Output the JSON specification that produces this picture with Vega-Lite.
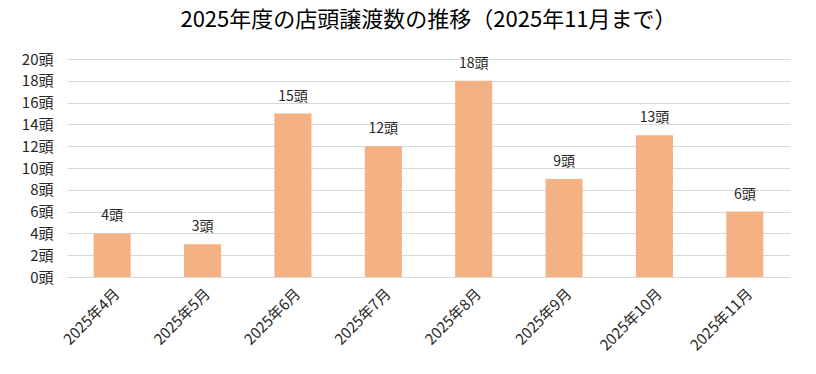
{
  "$schema": "https://vega.github.io/schema/vega-lite/v6.json",
  "width": 723,
  "height": 218,
  "autosize": {"type": "none"},
  "padding": {"left": 67, "top": 59, "right": 26, "bottom": 97},
  "background": "white",
  "config": {"view": {"stroke": null}, "font": "Noto Sans CJK JP"},
  "title": {
    "text": "2025年度の店頭譲渡数の推移（2025年11月まで）",
    "fontSize": 22,
    "fontWeight": "normal",
    "color": "#000000",
    "anchor": "middle",
    "offset": 20,
    "font": "Noto Sans CJK JP"
  },
  "data": {
    "values": [
      {"month": "2025年4月", "count": 4, "label": "4頭"},
      {"month": "2025年5月", "count": 3, "label": "3頭"},
      {"month": "2025年6月", "count": 15, "label": "15頭"},
      {"month": "2025年7月", "count": 12, "label": "12頭"},
      {"month": "2025年8月", "count": 18, "label": "18頭"},
      {"month": "2025年9月", "count": 9, "label": "9頭"},
      {"month": "2025年10月", "count": 13, "label": "13頭"},
      {"month": "2025年11月", "count": 6, "label": "6頭"}
    ]
  },
  "encoding": {
    "x": {
      "field": "month",
      "type": "nominal",
      "sort": null,
      "scale": {"paddingInner": 0.59, "paddingOuter": 0.295},
      "axis": {
        "title": null,
        "labelAngle": -45,
        "labelFontSize": 15,
        "labelColor": "#262626",
        "ticks": false,
        "domain": true,
        "domainColor": "#d9d9d9",
        "labelPadding": 9
      }
    },
    "y": {
      "field": "count",
      "type": "quantitative",
      "scale": {"domain": [0, 20]},
      "axis": {
        "title": null,
        "values": [0, 2, 4, 6, 8, 10, 12, 14, 16, 18, 20],
        "labelExpr": "datum.value + '頭'",
        "labelFontSize": 15,
        "labelColor": "#262626",
        "ticks": false,
        "domain": false,
        "gridColor": "#d9d9d9",
        "labelPadding": 14
      }
    }
  },
  "layer": [
    {"mark": {"type": "bar", "color": "#F4B183"}},
    {
      "mark": {"type": "text", "dy": -17, "fontSize": 14, "color": "#262626", "baseline": "middle"},
      "encoding": {"text": {"field": "label"}}
    }
  ]
}
